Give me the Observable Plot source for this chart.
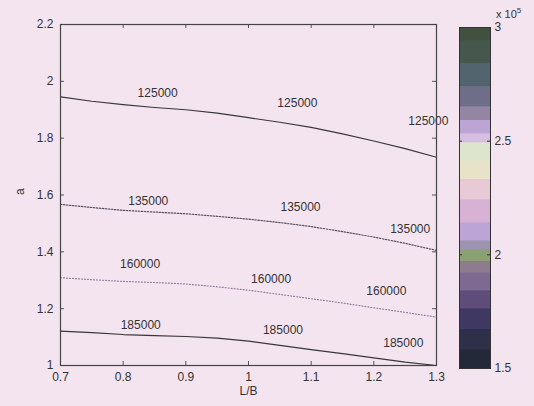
<!DOCTYPE html>
<html>
<head>
<meta charset="utf-8">
<script src="https://cdn.jsdelivr.net/npm/d3@7"></script>
<script src="https://cdn.jsdelivr.net/npm/@observablehq/plot@0.6"></script>
<style>
  html, body { margin: 0; padding: 0; background: #f4e4f0; }
  #wrap { position: relative; width: 534px; height: 406px; background: #f4e4f0; overflow: hidden;
          font-family: "Liberation Sans", Arial, sans-serif; color: #333; }
  #wrap svg { position: absolute; }
  #expo { position: absolute; left: 496px; top: 6px; font-size: 11px; color: #333; }
  #expo sup { font-size: 8px; }
</style>
</head>
<body>
<div id="wrap"><div id="expo">x 10<sup>5</sup></div></div>
<script>
// ---- data ----
const xTicks = [0.7, 0.8, 0.9, 1.0, 1.1, 1.2, 1.3];
const xTickLabels = ["0.7", "0.8", "0.9", "1", "1.1", "1.2", "1.3"];
const yTicks = [1, 1.2, 1.4, 1.6, 1.8, 2.0, 2.2];
const yTickLabels = ["1", "1.2", "1.4", "1.6", "1.8", "2", "2.2"];

const lb = [0.7, 0.75, 0.8, 0.85, 0.9, 0.95, 1.0, 1.05, 1.1, 1.15, 1.2, 1.25, 1.3];
const a125 = [1.945, 1.930, 1.918, 1.908, 1.900, 1.888, 1.872, 1.856, 1.838, 1.815, 1.790, 1.763, 1.733];
const a135 = [1.567, 1.556, 1.546, 1.540, 1.534, 1.525, 1.515, 1.503, 1.489, 1.471, 1.452, 1.430, 1.405];
const a160 = [1.309, 1.302, 1.296, 1.292, 1.287, 1.277, 1.265, 1.250, 1.235, 1.220, 1.203, 1.187, 1.170];
const a185 = [1.121, 1.116, 1.109, 1.105, 1.102, 1.096, 1.086, 1.071, 1.056, 1.042, 1.027, 1.012, 1.000];

const levels = [125000, 135000, 160000, 185000];
const labelLB125 = [0.855, 1.078, 1.287];
const labelA125 = [1.957, 1.922, 1.860];
const labelLB135 = [0.840, 1.083, 1.258];
const labelA135 = [1.577, 1.557, 1.479];
const labelLB160 = [0.827, 1.036, 1.220];
const labelA160 = [1.358, 1.303, 1.260];
const labelLB185 = [0.828, 1.055, 1.247];
const labelA185 = [1.141, 1.123, 1.078];

const cbTicks = [150000, 200000, 250000, 300000];
const cbTickLabels = ["1.5", "2", "2.5", "3"];
const cbEdges = [300000, 294000, 284000, 274000, 265000, 259000, 253000, 249000, 241000, 233000, 224000,
                 214000, 206000, 202000, 197000, 192000, 184000, 176000, 167000, 158000, 150000];
const cbColors = ["#425040", "#46584e", "#52646e", "#6e6e88", "#9486a2", "#bca4d4", "#d6bee0", "#dde6cc",
                  "#e8e2c8", "#e8cad6", "#d8b2d4", "#bca4d6", "#9c94b2", "#8ca076", "#8c7c8e", "#7e6a90",
                  "#5e4c7a", "#3e3862", "#2e304a", "#24293a"];

// ---- build tables ----
const series = [a125, a135, a160, a185];
const styles = [
  {stroke: "#383838", strokeDasharray: null},
  {stroke: "#5c5266", strokeDasharray: "1.5,1.5"},
  {stroke: "#9c7ca2", strokeDasharray: "1,2"},
  {stroke: "#383838", strokeDasharray: null}
];
const labelLBs = [labelLB125, labelLB135, labelLB160, labelLB185];
const labelAs = [labelA125, labelA135, labelA160, labelA185];

const lineMarks = levels.map((lev, k) => {
  const rows = lb.map((x, i) => ({x, y: series[k][i]}));
  const opts = {x: "x", y: "y", stroke: styles[k].stroke, strokeWidth: 1.2};
  if (styles[k].strokeDasharray) opts.strokeDasharray = styles[k].strokeDasharray;
  return Plot.line(rows, opts);
});
const labelRows = levels.flatMap((lev, k) =>
  labelLBs[k].map((x, i) => ({x, y: labelAs[k][i], t: String(lev)})));

const W = 534, H = 406, mL = 60, mR = 98, mT = 24, mB = 41;
const pW = W - mL - mR, pH = H - mT - mB;
const fmtX = d => xTickLabels[xTicks.findIndex(t => Math.abs(t - d) < 1e-9)];
const fmtY = d => yTickLabels[yTicks.findIndex(t => Math.abs(t - d) < 1e-9)];

const main = Plot.plot({
  width: W, height: H,
  marginLeft: mL, marginRight: mR, marginTop: mT, marginBottom: mB,
  style: {background: "transparent", fontFamily: "'Liberation Sans', Arial, sans-serif", fontSize: "12px", color: "#333"},
  x: {domain: [0.7, 1.3]},
  y: {domain: [1, 2.2]},
  marks: [
    ...lineMarks,
    Plot.text(labelRows, {x: "x", y: "y", text: "t", fill: "#333", fontSize: 12}),
    Plot.tickX(xTicks, {x: d => d, insetTop: pH - 4, stroke: "#555"}),
    Plot.tickX(xTicks, {x: d => d, insetBottom: pH - 4, stroke: "#555"}),
    Plot.tickY(yTicks, {y: d => d, insetRight: pW - 4, stroke: "#555"}),
    Plot.tickY(yTicks, {y: d => d, insetLeft: pW - 4, stroke: "#555"}),
    Plot.frame({stroke: "#444", strokeWidth: 1.2}),
    Plot.axisX(xTicks, {tickSize: 0, tickPadding: 7, tickFormat: fmtX, label: null}),
    Plot.axisY(yTicks, {tickSize: 0, tickPadding: 7, tickFormat: fmtY, label: null}),
    Plot.text(["L/B"], {text: d => d, frameAnchor: "bottom", dy: 29, fill: "#333", fontSize: 12}),
    Plot.text(["a"], {text: d => d, frameAnchor: "left", dx: -40, rotate: -90, fill: "#333", fontSize: 12})
  ]
});
main.style.left = "0px"; main.style.top = "0px";

const bands = cbColors.map((c, i) => ({hi: cbEdges[i], lo: cbEdges[i + 1], c}));
const cbW = 84, cbL = 9, cbBar = 31;
const cb = Plot.plot({
  width: cbW, height: H,
  marginLeft: cbL, marginRight: cbW - cbL - cbBar, marginTop: 27, marginBottom: 38,
  style: {background: "transparent", fontFamily: "'Liberation Sans', Arial, sans-serif", fontSize: "12px", color: "#333"},
  x: {domain: [0, 1], axis: null},
  y: {domain: [150000, 300000], axis: null},
  color: {type: "identity"},
  marks: [
    Plot.rect(bands, {x1: 0, x2: 1, y1: "lo", y2: "hi", fill: "c", stroke: "c", strokeWidth: 0.6, shapeRendering: "crispEdges"}),
    Plot.tickY(cbTicks, {y: d => d, insetRight: cbBar - 3, stroke: "#333"}),
    Plot.tickY(cbTicks, {y: d => d, insetLeft: cbBar - 3, stroke: "#333"}),
    Plot.frame({stroke: "#333", strokeWidth: 1}),
    Plot.axisY(cbTicks, {anchor: "right", tickSize: 0, tickPadding: 4,
      tickFormat: d => cbTickLabels[cbTicks.indexOf(d)], label: null})
  ]
});
cb.style.left = "450px"; cb.style.top = "0px";

const wrap = document.getElementById("wrap");
wrap.appendChild(main);
wrap.appendChild(cb);
</script>
</body>
</html>
